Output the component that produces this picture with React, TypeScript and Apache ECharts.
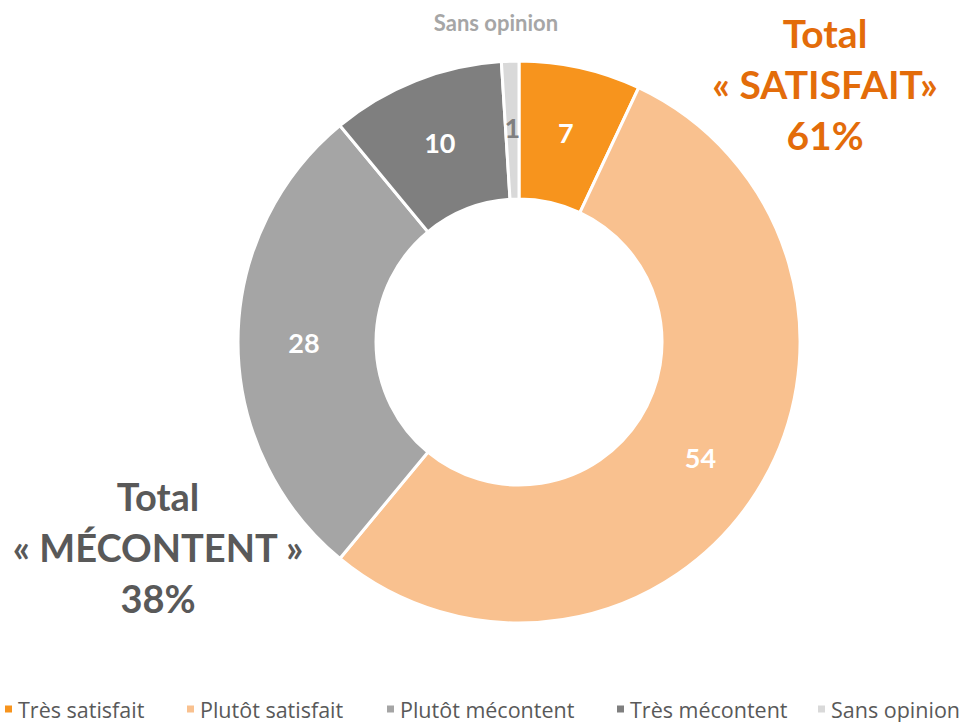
import React, { useEffect, useRef } from "react";
import * as echarts from "echarts";

const categories = ["Très satisfait", "Plutôt satisfait", "Plutôt mécontent", "Très mécontent", "Sans opinion"];
const values = [7, 54, 28, 10, 1];
const colors = ["#F7941D", "#F9C18F", "#A5A5A5", "#7F7F7F", "#D9D9D9"];
const satisfiedGroup = ["Très satisfait", "Plutôt satisfait"];
const unhappyGroup = ["Plutôt mécontent", "Très mécontent"];

const FONT = "Lato";

export default function App() {
  const ref = useRef<HTMLDivElement>(null);
  useEffect(() => {
    if (!ref.current) return;
    const chart = echarts.init(ref.current, undefined, { renderer: "svg" });
    const sum = (names: string[]) =>
      names.reduce((s, n) => s + values[categories.indexOf(n)], 0);
    const totalSat = sum(satisfiedGroup);
    const totalMec = sum(unhappyGroup);
    const legendLefts = [3, 185, 385, 615, 816];
    chart.setOption({
      animation: false,
      legend: categories.map((c, i) => ({
        data: [c],
        left: legendLefts[i],
        top: 697,
        padding: 0,
        icon: "rect",
        itemWidth: 9,
        itemHeight: 9,
        itemGap: 6,
        selectedMode: false,
        textStyle: { color: "#595959", fontSize: 21.5, fontFamily: "Open Sans", lineHeight: 24 },
      })),
      series: [
        {
          type: "pie",
          center: [519, 342],
          radius: [143, 281],
          startAngle: 90,
          clockwise: true,
          avoidLabelOverlap: false,
          itemStyle: { borderColor: "#ffffff", borderWidth: 3 },
          label: {
            show: true,
            position: "inside",
            formatter: "{c}",
            color: "#ffffff",
            fontSize: 27,
            fontWeight: "bold",
            fontFamily: FONT,
          },
          labelLine: { show: false },
          emphasis: { disabled: true },
          data: categories.map((c, i) => ({
            name: c,
            value: values[i],
            itemStyle: { color: colors[i] },
            label: i === 4 ? { color: "#7F7F7F" } : undefined,
          })),
        },
      ],
      graphic: [
        {
          type: "text",
          x: 496,
          y: 22,
          style: {
            text: categories[4],
            fill: "#A6A6A6",
            font: `bold 22px ${FONT}`,
            align: "center",
            verticalAlign: "middle",
          },
        },
        {
          type: "text",
          x: 825,
          y: 84,
          style: {
            text: `Total\n« SATISFAIT»\n${totalSat}%`,
            fill: "#E36C0A",
            font: `bold 39px ${FONT}`,
            align: "center",
            verticalAlign: "middle",
            lineHeight: 51,
          },
        },
        {
          type: "text",
          x: 158,
          y: 547,
          style: {
            text: `Total\n« MÉCONTENT »\n${totalMec}%`,
            fill: "#595959",
            font: `bold 38px ${FONT}`,
            align: "center",
            verticalAlign: "middle",
            lineHeight: 51,
          },
        },
      ],
    });
    return () => chart.dispose();
  }, []);
  return (
    <div
      ref={ref}
      style={{ position: "absolute", left: 0, top: 0, width: 971, height: 722, background: "#fff" }}
    />
  );
}
